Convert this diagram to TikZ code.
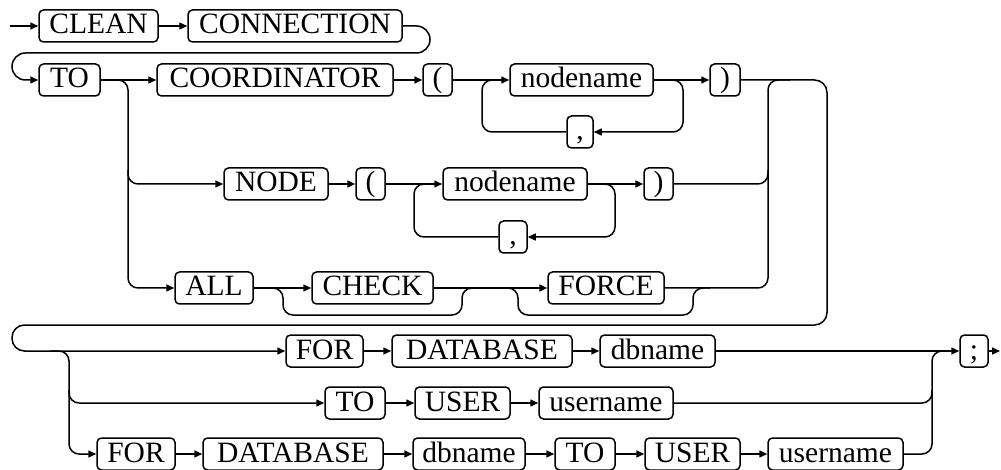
\documentclass[tikz,border=0pt]{standalone}
\usepackage{fontspec}
\setmainfont{Liberation Serif}
\usetikzlibrary{arrows.meta}
\begin{document}
\begin{tikzpicture}[x=1pt,y=-1pt, line width=1.5pt,
  box/.style={draw, rounded corners=4.5pt, minimum height=32pt, inner xsep=1pt, inner ysep=0pt,
    text height=22pt, text depth=6pt, font=\fontsize{29.5}{31}\selectfont},
  arr/.style={-{Triangle[length=8pt,width=7pt]}},
  rail/.style={rounded corners=10pt}]
\fill[white] (0,0) rectangle (1001,470);
\useasboundingbox (0,0) rectangle (1001,470);
% row 1
\node[box, minimum width=119pt] (clean) at (98.5,26) {CLEAN};
\node[box, minimum width=214pt] (conn) at (295,26) {CONNECTION};
% row 2
\node[box, minimum width=61pt] (to1) at (69.5,80) {TO};
\node[box, minimum width=236pt] (coord) at (275,80) {COORDINATOR};
\node[box, minimum width=29pt] (paren1) at (437.5,80) {(};
\node[box, minimum width=143pt] (nn1) at (581.5,80) {nodename};
\node[box, minimum width=30pt] (close1) at (725,80) {)};
\node[box, minimum width=26pt] (comma1) at (580,132) {,};
% node row
\node[box, minimum width=104pt] (nodekw) at (276,184) {NODE};
\node[box, minimum width=29pt] (paren2) at (370.5,184) {(};
\node[box, minimum width=144pt] (nn2) at (515,184) {nodename};
\node[box, minimum width=29pt] (close2) at (658.5,184) {)};
\node[box, minimum width=28pt] (comma2) at (513,237) {,};
% all row
\node[box, minimum width=78pt] (all) at (214,288) {ALL};
\node[box, minimum width=121pt] (check) at (372.5,288) {CHECK};
\node[box, minimum width=116pt] (force) at (606,288) {FORCE};
% for row
\node[box, minimum width=77pt] (for1) at (324.5,351) {FOR};
\node[box, minimum width=180pt] (db1) at (482,351) {DATABASE};
\node[box, minimum width=115pt] (dbn1) at (657.5,351) {dbname};
\node[box, minimum width=28pt] (semi) at (974,351) {;};
% to row
\node[box, minimum width=60pt] (to2) at (355,403) {TO};
\node[box, minimum width=95pt] (user2) at (462.5,403) {USER};
\node[box, minimum width=134pt] (un1) at (606,403) {username};
% bottom row
\node[box, minimum width=78pt] (for2) at (136,454) {FOR};
\node[box, minimum width=180pt] (db2) at (293,454) {DATABASE};
\node[box, minimum width=112pt] (dbn2) at (469,454) {dbname};
\node[box, minimum width=60pt] (to3) at (585,454) {TO};
\node[box, minimum width=95pt] (user3) at (692.5,454) {USER};
\node[box, minimum width=135pt] (un2) at (835.5,454) {username};
\coordinate (start) at (10,26);
\coordinate (finish) at (1000,351);
% connectors row 1
\draw[arr] (start) -- (clean.west);
\draw[arr] (clean.east) -- (conn.west);
\draw[rounded corners=13.5pt, arr] (conn.east) -- (430,26) -- (430,53) -- (12,53) -- (12,80) -- (to1.west);
% row 2
\draw[arr] (to1.east) -- (coord.west);
\draw[rail,arr] (to1.east) -- (128,80) -- (128,288) -- (all.west);
\draw[rail,arr] (128,170) -- (128,184) -- (nodekw.west);
\draw[arr] (coord.east) -- (paren1.west);
\draw[arr] (paren1.east) -- (nn1.west);
\draw[arr] (nn1.east) -- (close1.west);
\draw[rail,arr] (nn1.east) -- (683,80) -- (683,132) -- (comma1.east);
\draw[rail] (comma1.west) -- (482,132) -- (482,80) -- (500,80);
\draw[rounded corners=12.5pt, arr] (close1.east) -- (827,80) -- (827,325) -- (12,325) -- (12,351) -- (for1.west);
% node row
\draw[arr] (nodekw.east) -- (paren2.west);
\draw[arr] (paren2.east) -- (nn2.west);
\draw[arr] (nn2.east) -- (close2.west);
\draw[rail,arr] (nn2.east) -- (615,184) -- (615,237) -- (comma2.east);
\draw[rail] (comma2.west) -- (414,237) -- (414,184) -- (430,184);
\draw[rail] (close2.east) -- (768,184) -- (768,170);
% all row
\draw[arr] (all.east) -- (check.west);
\draw[arr] (check.east) -- (force.west);
\draw[rail] (all.east) -- (283,288) -- (283,315) -- (462,315) -- (462,288) -- (480,288);
\draw[rail] (500,288) -- (518,288) -- (518,315) -- (693,315) -- (693,288) -- (710,288);
\draw[rail] (force.east) -- (768,288) -- (768,80) -- (790,80);
% for row
\draw[arr] (for1.east) -- (db1.west);
\draw[arr] (db1.east) -- (dbn1.west);
\draw[arr] (dbn1.east) -- (semi.west);
\draw[arr] (semi.east) -- (finish);
\draw[rail,arr] (50,351) -- (69,351) -- (69,454) -- (for2.west);
\draw[rail,arr] (69,390) -- (69,403) -- (to2.west);
% to row
\draw[arr] (to2.east) -- (user2.west);
\draw[arr] (user2.east) -- (un1.west);
\draw[rail] (un1.east) -- (932,403) -- (932,390);
% bottom row
\draw[arr] (for2.east) -- (db2.west);
\draw[arr] (db2.east) -- (dbn2.west);
\draw[arr] (dbn2.east) -- (to3.west);
\draw[arr] (to3.east) -- (user3.west);
\draw[arr] (user3.east) -- (un2.west);
\draw[rail] (un2.east) -- (932,454) -- (932,351) -- (948,351);
\end{tikzpicture}
\end{document}
